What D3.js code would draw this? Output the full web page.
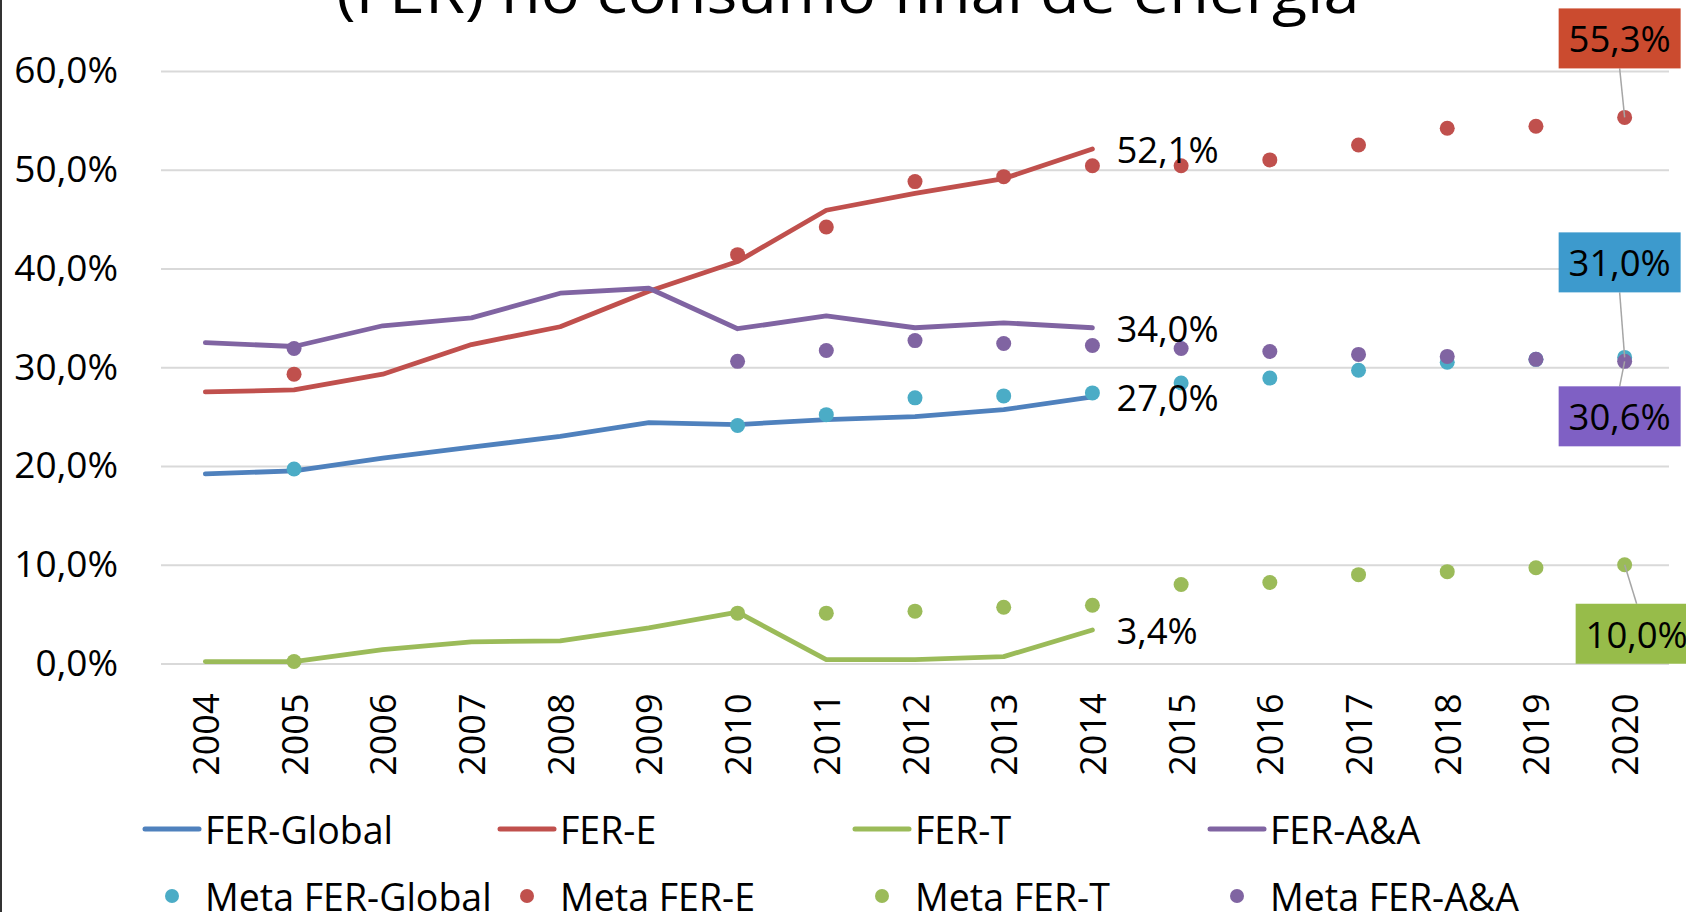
<!DOCTYPE html>
<html>
<head>
<meta charset="utf-8">
<script src="https://cdn.jsdelivr.net/npm/d3@7"></script>
<style>
  html, body { margin: 0; padding: 0; background: #fff; }
  svg { display: block; }
  text { font-family: "Open Sans", "Noto Sans", sans-serif; fill: #000; }
</style>
</head>
<body>
<svg id="chart" width="1686" height="912"></svg>
<script>
// ---------- data ----------
const years = ["2004","2005","2006","2007","2008","2009","2010","2011","2012","2013","2014","2015","2016","2017","2018","2019","2020"];
const yTicks = [0, 10, 20, 30, 40, 50, 60];

const ferGlobal = [19.2, 19.5, 20.8, 21.9, 23.0, 24.4, 24.2, 24.7, 25.0, 25.7, 27.0, null, null, null, null, null, null];
const ferE      = [27.5, 27.7, 29.3, 32.3, 34.1, 37.7, 40.7, 45.9, 47.6, 49.1, 52.1, null, null, null, null, null, null];
const ferT      = [0.2, 0.2, 1.4, 2.2, 2.3, 3.6, 5.2, 0.4, 0.4, 0.7, 3.4, null, null, null, null, null, null];
const ferAA     = [32.5, 32.1, 34.2, 35.0, 37.5, 38.0, 33.9, 35.2, 34.0, 34.5, 34.0, null, null, null, null, null, null];

const metaGlobal = [null, 19.7, null, null, null, null, 24.1, 25.2, 26.9, 27.1, 27.4, 28.4, 28.9, 29.7, 30.5, 30.8, 31.0];
const metaE      = [null, 29.3, null, null, null, null, 41.4, 44.2, 48.8, 49.3, 50.4, 50.4, 51.0, 52.5, 54.2, 54.4, 55.3];
const metaT      = [null, 0.2, null, null, null, null, 5.1, 5.1, 5.3, 5.7, 5.9, 8.0, 8.2, 9.0, 9.3, 9.7, 10.0];
const metaAA     = [null, 31.9, null, null, null, null, 30.6, 31.7, 32.7, 32.4, 32.2, 31.9, 31.6, 31.3, 31.1, 30.8, 30.6];

const lineNames = ["FER-Global", "FER-E", "FER-T", "FER-A&A"];
const metaNames = ["Meta FER-Global", "Meta FER-E", "Meta FER-T", "Meta FER-A&A"];
const titleText = "(FER) no consumo final de energia";

// ---------- setup ----------
const lineSeries = [
  { name: lineNames[0], values: ferGlobal, color: "#4F81BD" },
  { name: lineNames[1], values: ferE,      color: "#C0504D" },
  { name: lineNames[2], values: ferT,      color: "#9BBB59" },
  { name: lineNames[3], values: ferAA,     color: "#8064A2" }
];
const metaSeries = [
  { name: metaNames[0], values: metaGlobal, color: "#4BACC6", box: "#3D9ACD", dx: -5, dy: -95 },
  { name: metaNames[1], values: metaE,      color: "#C0504D", box: "#CB4B2F", dx: -5, dy: -79 },
  { name: metaNames[2], values: metaT,      color: "#9BBB59", box: "#97BC4A", dx: 12, dy: 69 },
  { name: metaNames[3], values: metaAA,     color: "#8064A2", box: "#7F60C4", dx: -5, dy: 55 }
];

const svg = d3.select("#chart");
svg.append("rect").attr("width", 1686).attr("height", 912).attr("fill", "#fff");

const loc = d3.formatLocale({ decimal: ",", thousands: ".", grouping: [3], currency: ["", "€"] });
const fmt1 = loc.format(".1f");
const pct = v => fmt1(v) + "%";

const x = d3.scaleBand().domain(years).range([161, 1669]).padding(0);
const cx = d => x(d) + x.bandwidth() / 2;
const y = d3.scaleLinear().domain([0, 60]).range([663.5, 71]);

// left border
svg.append("line").attr("x1", 1).attr("x2", 1).attr("y1", 0).attr("y2", 912)
  .attr("stroke", "#333").attr("stroke-width", 2);

// title (partially visible)
svg.append("text").attr("x", 848).attr("y", 13)
  .attr("text-anchor", "middle").attr("font-size", 58)
  .attr("textLength", 1023).attr("lengthAdjust", "spacingAndGlyphs")
  .text(titleText);

// y axis + gridlines
const yAxis = d3.axisLeft(y).tickValues(yTicks).tickFormat(pct)
  .tickSize(-(1669 - 161)).tickPadding(43);
const gy = svg.append("g").attr("transform", "translate(161,0)").call(yAxis);
gy.select(".domain").remove();
gy.selectAll(".tick line").attr("stroke", "#D9D9D9").attr("stroke-width", 2);
gy.selectAll(".tick text").attr("font-size", 37).attr("fill", "#000")
  .attr("font-family", "'Open Sans', sans-serif");

// x axis
const xAxis = d3.axisBottom(x).tickSize(0).tickPadding(0);
const gx = svg.append("g").attr("transform", "translate(0,663.5)").call(xAxis);
gx.select(".domain").remove();
gx.selectAll(".tick text")
  .attr("font-size", 36).attr("fill", "#000")
  .attr("font-family", "'Open Sans', sans-serif")
  .attr("text-anchor", "end")
  .attr("dy", null)
  .attr("dominant-baseline", "central")
  .attr("transform", "translate(0,30) rotate(-90)")
  .attr("x", 0).attr("y", 0);

// lines
const line = d3.line().defined(d => d.v != null).x(d => cx(d.year)).y(d => y(d.v));
lineSeries.forEach(s => {
  const pts = years.map((yr, i) => ({ year: yr, v: s.values[i] }));
  svg.append("path").datum(pts)
    .attr("d", line).attr("fill", "none")
    .attr("stroke", s.color).attr("stroke-width", 4.8)
    .attr("stroke-linecap", "round").attr("stroke-linejoin", "round");
});

// meta dots
metaSeries.forEach(s => {
  const pts = years.map((yr, i) => ({ year: yr, v: s.values[i] })).filter(d => d.v != null);
  svg.append("g").selectAll("circle").data(pts).join("circle")
    .attr("cx", d => cx(d.year)).attr("cy", d => y(d.v)).attr("r", 7.5)
    .attr("fill", s.color);
});

// end labels for lines (last value)
lineSeries.forEach(s => {
  let li = s.values.length - 1;
  while (s.values[li] == null) li--;
  svg.append("text")
    .attr("x", cx(years[li]) + 24).attr("y", y(s.values[li]))
    .attr("dominant-baseline", "central")
    .attr("font-size", 36.5)
    .text(pct(s.values[li]));
});

// boxed labels for meta 2020 values
metaSeries.forEach(s => {
  const li = s.values.length - 1;
  const px = cx(years[li]), py = y(s.values[li]);
  const bx = px + s.dx, by = py + s.dy;
  const bw = 122, bh = 60;
  const edgeY = s.dy < 0 ? by + bh / 2 : by - bh / 2;
  svg.append("line").attr("x1", px).attr("y1", py).attr("x2", bx).attr("y2", edgeY)
    .attr("stroke", "#A6A6A6").attr("stroke-width", 1.5);
  svg.append("rect").attr("x", bx - bw / 2).attr("y", by - bh / 2)
    .attr("width", bw).attr("height", bh).attr("fill", s.box);
  svg.append("text").attr("x", bx).attr("y", by)
    .attr("text-anchor", "middle").attr("dominant-baseline", "central")
    .attr("font-size", 36.5).text(pct(s.values[li]));
});

// legend
const legX = [145, 500, 855, 1210];
lineSeries.forEach((s, i) => {
  const g = svg.append("g").attr("transform", `translate(${legX[i]},829)`);
  g.append("line").attr("x1", 0).attr("x2", 54).attr("y1", 0).attr("y2", 0)
    .attr("stroke", s.color).attr("stroke-width", 5).attr("stroke-linecap", "round");
  g.append("text").attr("x", 60).attr("y", 0).attr("dominant-baseline", "central")
    .attr("font-size", 37.5).text(s.name);
});
metaSeries.forEach((s, i) => {
  const g = svg.append("g").attr("transform", `translate(${legX[i]},896)`);
  g.append("circle").attr("cx", 27).attr("cy", 0).attr("r", 7).attr("fill", s.color);
  g.append("text").attr("x", 60).attr("y", 0).attr("dominant-baseline", "central")
    .attr("font-size", 37.5).text(s.name);
});
</script>
</body>
</html>
